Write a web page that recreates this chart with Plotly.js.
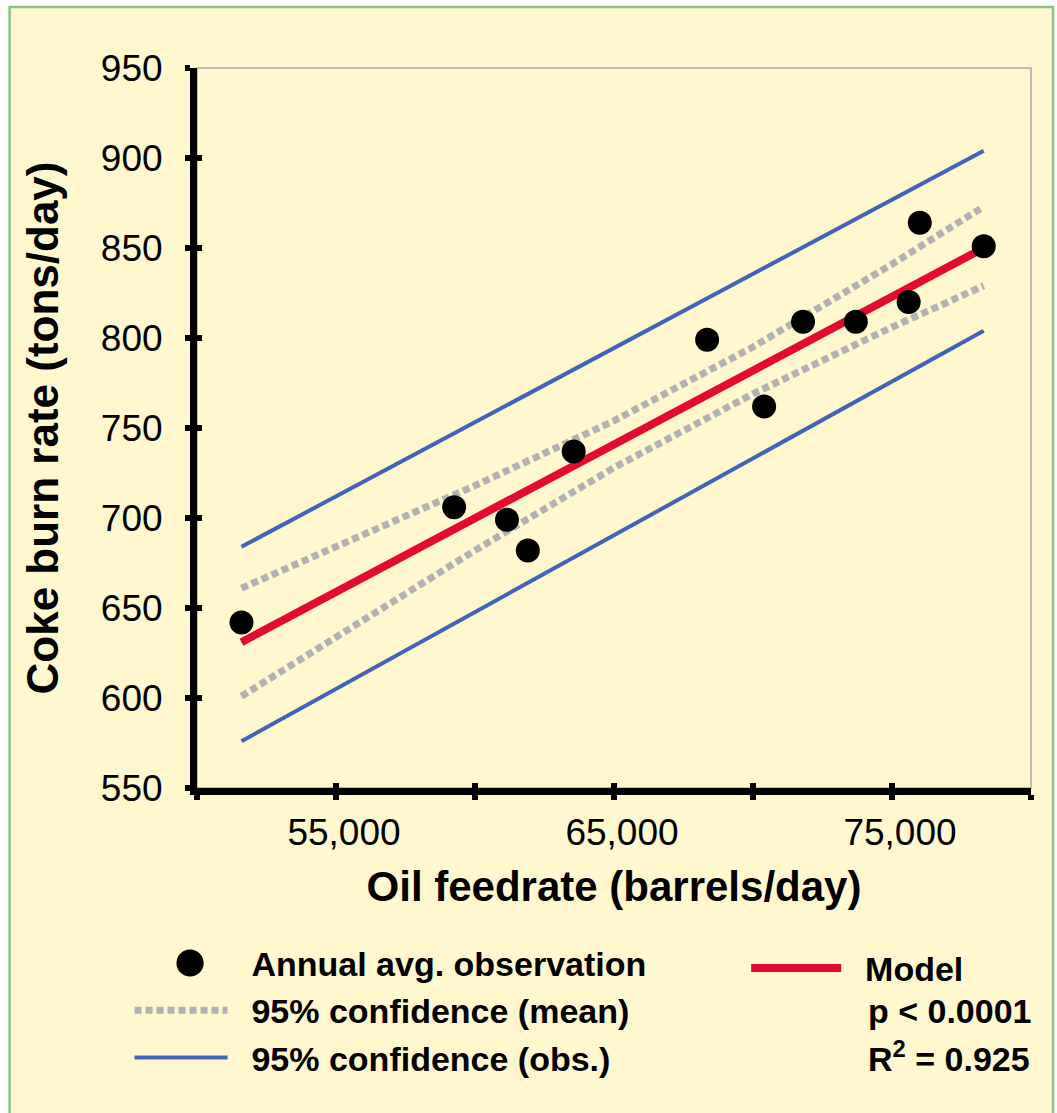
<!DOCTYPE html>
<html>
<head>
<meta charset="utf-8">
<script src="https://cdn.plot.ly/plotly-3.0.1.min.js"></script>
<style>
  html, body { margin: 0; padding: 0; background: #ffffff; }
  #chart { width: 1057px; height: 1113px; }
</style>
</head>
<body>
<div id="chart"></div>
<script>
// Annual average observations
const feedrate = [51600, 59250, 61150, 61900, 63550, 68350, 70400, 71800, 73700, 75600, 76000, 78300];
const burnRate = [642, 706, 699, 682, 737, 799, 762, 809, 809, 820, 864, 851];

// Fitted model line
const modelX = [51600, 78300];
const modelY = [631, 850];

// 95% confidence band for the mean
const meanX = [51600, 55000, 60000, 65000, 70000, 75000, 78300];
const meanUpper = [661, 684, 718, 754, 795, 841, 873];
const meanLower = [601, 634, 682, 728, 769, 806, 829];

// 95% confidence band for individual observations
const obsX = [51600, 78300];
const obsUpper = [684, 904];
const obsLower = [576, 804];

// Axis ticks
const xTickVals = [55000, 65000, 75000];
const xTickText = ['55,000', '65,000', '75,000'];
const xMinorVals = [50000, 60000, 70000, 80000];
const yTickVals = [550, 600, 650, 700, 750, 800, 850, 900, 950];

const FONT = 'Liberation Sans, Arial, Helvetica, sans-serif';
const BG = '#FFF7CE';
const BLUE = '#4264B6';
const GREY = '#B2B2B2';
const RED = '#E30B30';
const NB = '\u00a0\u00a0';

const W = 1057, H = 1113;
const plotL = 196.5, plotR = 1031, plotT = 68, plotB = 788.5;
const px = v => (v - plotL) / (plotR - plotL);
const py = v => (plotB - v) / (plotB - plotT);

const traces = [
  { x: obsX, y: obsUpper, mode: 'lines', name: NB + '95% confidence (obs.)',
    legendgroup: 'obs', legendrank: 3, line: { color: BLUE, width: 4 } },
  { x: obsX, y: obsLower, mode: 'lines', name: NB + '95% confidence (obs.)',
    legendgroup: 'obs', showlegend: false, line: { color: BLUE, width: 4 } },
  { x: meanX, y: meanUpper, mode: 'lines', name: NB + '95% confidence (mean)',
    legendgroup: 'mean', legendrank: 2, line: { color: GREY, width: 7, dash: '7px,4px' } },
  { x: meanX, y: meanLower, mode: 'lines', name: NB + '95% confidence (mean)',
    legendgroup: 'mean', showlegend: false, line: { color: GREY, width: 7, dash: '7px,4px' } },
  { x: modelX, y: modelY, mode: 'lines', name: NB + 'Model', legend: 'legend2',
    legendgroup: 'model', line: { color: RED, width: 8 } },
  { x: feedrate, y: burnRate, mode: 'markers', name: NB + 'Annual avg. observation',
    legendgroup: 'pts', legendrank: 1, marker: { color: '#000', size: 24 } },
  // overlay axes carry the inward half of each tick mark
  { x: [null], y: [null], xaxis: 'x2', yaxis: 'y', showlegend: false, hoverinfo: 'skip' },
  { x: [null], y: [null], xaxis: 'x', yaxis: 'y2', showlegend: false, hoverinfo: 'skip' }
];

const tickStyle = { tickcolor: '#000', tickwidth: 6, ticklen: 5 };
const minorX = (side) => Object.assign({ tickmode: 'array', tickvals: xMinorVals, ticks: side, showgrid: false }, tickStyle);

const layout = {
  width: W, height: H,
  margin: { l: plotL, r: W - plotR, t: plotT, b: H - plotB, pad: 0 },
  paper_bgcolor: '#ffffff',
  plot_bgcolor: 'rgba(0,0,0,0)',
  font: { family: FONT, color: '#000' },
  showlegend: true,
  xaxis: Object.assign({}, tickStyle, {
    range: [50000, 80000], tickmode: 'array', tickvals: xTickVals, ticktext: xTickText,
    ticks: 'outside', minor: minorX('outside'),
    showline: true, linewidth: 7, linecolor: '#000', showgrid: false, zeroline: false,
    tickfont: { family: FONT, size: 37, color: '#000' },
    ticklabelstandoff: 1, ticklabelshift: 8,
    title: { text: 'Oil feedrate (barrels/day)', font: { family: FONT, size: 42, weight: 'bold', color: '#000' }, standoff: 22 }
  }),
  yaxis: Object.assign({}, tickStyle, {
    range: [550, 950], tickmode: 'array', tickvals: yTickVals,
    ticks: 'outside', showline: true, linewidth: 7, linecolor: '#000', showgrid: false, zeroline: false,
    tickfont: { family: FONT, size: 37, color: '#000' },
    ticklabelstandoff: 15,
    title: { text: 'Coke burn rate (tons/day)', font: { family: FONT, size: 44, weight: 'bold', color: '#000' }, standoff: 31 }
  }),
  xaxis2: Object.assign({}, tickStyle, {
    overlaying: 'x', anchor: 'y', side: 'bottom', range: [50000, 80000],
    tickmode: 'array', tickvals: xTickVals, ticks: 'inside', minor: minorX('inside'),
    showticklabels: false, showline: false, showgrid: false, zeroline: false
  }),
  yaxis2: Object.assign({}, tickStyle, {
    overlaying: 'y', anchor: 'x', side: 'left', range: [550, 950],
    tickmode: 'array', tickvals: yTickVals, ticks: 'inside',
    showticklabels: false, showline: false, showgrid: false, zeroline: false
  }),
  legend: {
    x: px(129), xanchor: 'left', y: py(935), yanchor: 'top',
    bgcolor: 'rgba(0,0,0,0)', borderwidth: 0,
    font: { family: FONT, size: 34, weight: 'bold', color: '#000' },
    itemwidth: 93, tracegroupgap: 0, traceorder: 'grouped'
  },
  legend2: {
    x: px(746), xanchor: 'left', y: py(940), yanchor: 'top',
    bgcolor: 'rgba(0,0,0,0)', borderwidth: 0,
    font: { family: FONT, size: 34, weight: 'bold', color: '#000' },
    itemwidth: 90
  },
  shapes: [
    // outer panel
    { type: 'rect', xref: 'paper', yref: 'paper', layer: 'below',
      x0: px(9), x1: px(1053), y0: py(1130), y1: py(7),
      fillcolor: BG, line: { color: '#8CC282', width: 2.5 } },
    // plot frame (top / right)
    { type: 'rect', xref: 'paper', yref: 'paper', layer: 'below',
      x0: 0, x1: 1, y0: 0, y1: 1, line: { color: '#ABABAB', width: 1.5 } }
  ],
  annotations: [
    { text: 'p < 0.0001', xref: 'paper', yref: 'paper', x: px(866), y: py(1012),
      xanchor: 'left', yanchor: 'middle', showarrow: false,
      font: { family: FONT, size: 34, weight: 'bold', color: '#000' } },
    { text: 'R<sup>2</sup> = 0.925', xref: 'paper', yref: 'paper', x: px(866), y: py(1057),
      xanchor: 'left', yanchor: 'middle', showarrow: false,
      font: { family: FONT, size: 34, weight: 'bold', color: '#000' } }
  ]
};

Plotly.newPlot('chart', traces, layout, { displayModeBar: false, staticPlot: true }).then(gd => {
  // enlarge the legend dot to the size of the plotted observations
  gd.querySelectorAll('.legend .legendpoints path.scatterpts').forEach(p => {
    const t = p.getAttribute('transform') || '';
    p.setAttribute('transform', t + ' translate(9,0) scale(1.7)');
  });
});
</script>
</body>
</html>
